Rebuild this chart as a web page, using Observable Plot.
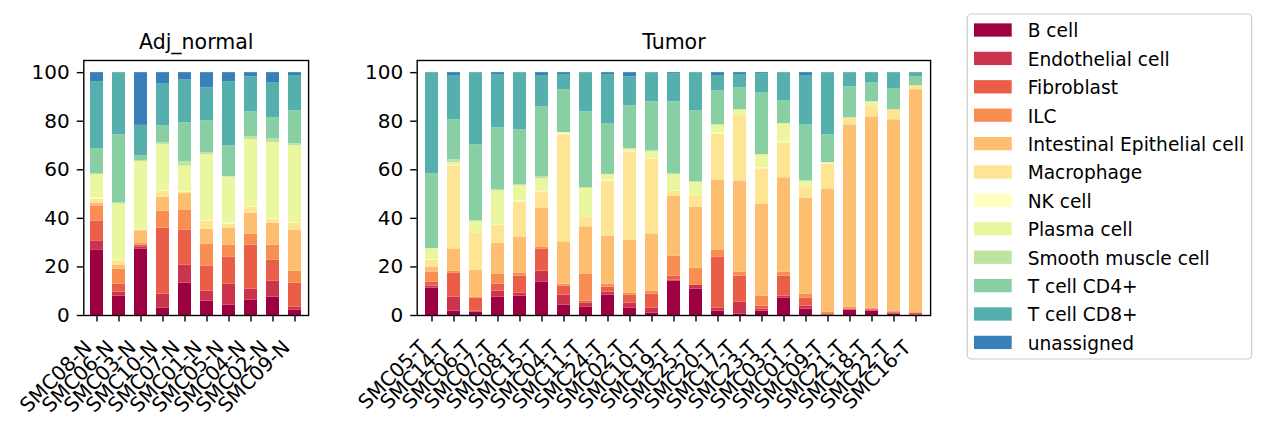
<!DOCTYPE html>
<html><head><meta charset="utf-8">
<script src="https://cdn.jsdelivr.net/npm/d3@7"></script>
<script src="https://cdn.jsdelivr.net/npm/@observablehq/plot@0.6"></script>
<style>
body{margin:0;background:#fff;font-family:"DejaVu Sans",sans-serif;}
#wrap{position:relative;width:1266px;height:426px;overflow:hidden;}
#wrap svg{position:absolute;top:0;}
</style></head><body><div id="wrap"></div>
<script>
const cellTypes = ["B cell","Endothelial cell","Fibroblast","ILC","Intestinal Epithelial cell","Macrophage","NK cell","Plasma cell","Smooth muscle cell","T cell CD4+","T cell CD8+","unassigned"];
const colors = ["#9e0142","#cc344d","#ea5d47","#f98e52","#fdbf6f","#fee594","#ffffbf","#eaf79f","#bee5a0","#88cfa4","#55afad","#397fb9"];
const yTicks = [0,20,40,60,80,100];

const normalSamples = ["SMC08-N","SMC06-N","SMC03-N","SMC10-N","SMC07-N","SMC01-N","SMC05-N","SMC04-N","SMC02-N","SMC09-N"];
// columns follow cellTypes order (percent)
const normalFractions = [
  [27.0,3.7,8.2,6.2,1.2,1.6,0.6,9.3,0.6,10.1,27.7,3.7],
  [8.0,1.6,3.3,6.2,1.7,1.8,0.2,23.1,0.6,27.9,25.6,0],
  [27.4,0.9,0.7,0.6,5.3,0.3,0,28.2,0.4,1.9,12.6,21.7],
  [3.0,5.8,27.2,7.1,5.7,2.6,0.2,18.9,0.8,7.0,17.4,4.5],
  [13.3,7.5,14.4,8.3,6.7,0.7,0.2,10.4,1.8,16.1,17.7,2.9],
  [5.9,4.1,10.4,9.0,6.2,3.3,0.2,27.1,0.8,13.2,13.6,6.2],
  [4.3,8.6,11.2,4.9,7.0,1.7,0.4,19.0,0,12.8,26.4,3.7],
  [6.3,4.6,18.1,4.6,8.6,2.5,0.2,27.7,1.2,10.3,14.4,1.7],
  [7.6,6.6,8.6,6.2,9.1,1.7,0.2,31.3,1.7,8.6,14.5,4.1],
  [2.2,1.2,9.9,5.0,16.9,2.9,0.2,31.6,0.8,13.6,14.5,1.2]
];

const tumorSamples = ["SMC05-T","SMC14-T","SMC06-T","SMC07-T","SMC08-T","SMC15-T","SMC04-T","SMC11-T","SMC24-T","SMC02-T","SMC10-T","SMC19-T","SMC25-T","SMC20-T","SMC17-T","SMC23-T","SMC03-T","SMC01-T","SMC09-T","SMC21-T","SMC18-T","SMC22-T","SMC16-T"];
const tumorFractions = [
  [11.3,0.8,1.7,4.1,2.0,2.9,0.2,4.4,0.2,30.7,41.7,0],
  [1.8,5.8,9.9,0.8,9.1,34.2,0.2,1.1,1.2,16.5,18.2,1.2],
  [1.4,0.4,5.4,0.4,11.1,15.3,0,4.9,0,31.4,29.7,0],
  [7.6,2.4,2.9,4.2,12.7,7.5,0.2,13.8,0.4,25.6,21.9,0.8],
  [8.0,1.2,7.0,1.3,14.8,14.5,0.4,6.2,0.4,22.7,23.5,0],
  [13.8,4.5,9.1,0.8,16.1,6.6,0.2,5.2,0.8,28.9,12.8,1.2],
  [4.3,4.1,3.7,0.8,17.4,44.1,0.8,0.1,0,17.7,6.2,0.8],
  [3.4,1.7,0.8,11.2,19.4,4.1,0,11.9,0,31.4,16.1,0],
  [8.4,1.2,2.1,1.2,19.8,22.7,0.4,2.1,0.2,20.9,20.2,0.8],
  [3.0,2.1,3.3,0.8,21.9,36.3,0.2,1.0,0,17.8,11.9,1.7],
  [1.0,2.0,5.8,1.2,23.6,30.9,0.2,2.7,0.4,20.2,12.0,0],
  [14.2,0.4,1.6,8.3,24.7,2.1,0.1,6.5,0.4,29.7,11.6,0.4],
  [10.9,1.6,0.1,6.9,25.2,4.5,0,5.8,0,29.3,15.7,0],
  [1.8,1.2,21.1,2.9,28.8,19.0,0.4,3.3,0,14.1,6.2,1.2],
  [0.6,4.9,10.7,1.7,37.5,26.9,0,2.4,0,9.1,5.4,0.8],
  [1.8,0.8,1.3,4.1,37.9,14.5,0.4,5.4,0,25.5,7.9,0.4],
  [7.2,0.8,8.2,1.7,38.8,14.4,0.4,7.5,0,9.4,11.6,0],
  [2.6,1.3,3.3,1.6,39.6,4.6,0,2.4,0,23.1,20.3,1.2],
  [0.2,0.1,0.1,1.0,50.7,10.3,0.5,0,0,11.5,25.6,0],
  [2.2,0.2,0.3,0.7,75.1,2.9,0,0,0,12.8,5.8,0],
  [1.8,0.4,0.4,0.4,78.8,4.2,0,2.0,0,7.9,4.1,0],
  [0.6,0.4,0.4,0.4,78.8,4.1,0,0,0,8.7,6.6,0],
  [0.2,0.2,0.6,0.2,91.8,1.6,0,0,0,3.7,1.7,0]
];

function toRows(samples, fractions) {
  const out = [];
  samples.forEach((s, i) => {
    const total = d3.sum(fractions[i]);
    cellTypes.forEach((c, j) => out.push({sample: s, cell: c, pct: fractions[i][j] * 100 / total}));
  });
  return out;
}

function panel(samples, fractions, title, width, marginLeft, marginRight) {
  return Plot.plot({
    width, height: 426, marginTop: 60, marginBottom: 111, marginLeft, marginRight,
    style: {fontFamily: "'DejaVu Sans', sans-serif", fontSize: "20px", color: "#000", background: "transparent", overflow: "visible"},
    x: {domain: samples, paddingInner: 0.42, paddingOuter: 0.273, label: null},
    y: {domain: [0, 105], label: null},
    color: {domain: cellTypes, range: colors},
    marks: [
      Plot.barY(toRows(samples, fractions), {x: "sample", y: "pct", fill: "cell"}),
      Plot.frame({stroke: "#000", strokeWidth: 1.4}),
      Plot.axisY({ticks: yTicks, tickSize: 6.5, tickPadding: 7.5, strokeWidth: 1.4, label: null}),
      Plot.axisX({tickSize: 6.5, strokeWidth: 1.4, tickFormat: () => "", label: null}),
      Plot.text(samples, {x: d => d, frameAnchor: "bottom", text: d => d, rotate: -45, textAnchor: "end", lineAnchor: "top", dx: -14, dy: 23.2}),
      Plot.text([title], {frameAnchor: "top", text: d => d, lineAnchor: "bottom", dy: -12, fontSize: 20.5})
    ]
  });
}

const wrap = document.getElementById("wrap");
const left = panel(normalSamples, normalFractions, "Adj_normal", 340, 83.3, 31.9);
left.style.left = "0px";
wrap.appendChild(left);
const right = panel(tumorSamples, tumorFractions, "Tumor", 620, 76.7, 29.9);
right.style.left = "340px";
wrap.appendChild(right);

// legend built from the chart's colour scale
const col = left.scale("color");
const leg = d3.create("svg").attr("width", 1266).attr("height", 426)
  .style("position", "absolute").style("left", "0px").style("top", "0px")
  .style("font-family", "'DejaVu Sans', sans-serif").style("font-size", "18.6px");
leg.append("rect").attr("x", 967.3).attr("y", 14).attr("width", 284.4).attr("height", 345)
  .attr("rx", 4).attr("fill", "#fff").attr("stroke", "#cccccc").attr("stroke-width", 1.2);
col.domain.forEach((c, i) => {
  const cy = 30 + 28.4 * i;
  leg.append("rect").attr("x", 974).attr("y", cy - 6.65).attr("width", 37.7).attr("height", 13.3).attr("fill", col.apply(c));
  leg.append("text").attr("x", 1027.7).attr("y", cy + 7.3).attr("fill", "#000").text(c);
});
wrap.appendChild(leg.node());
</script></body></html>
